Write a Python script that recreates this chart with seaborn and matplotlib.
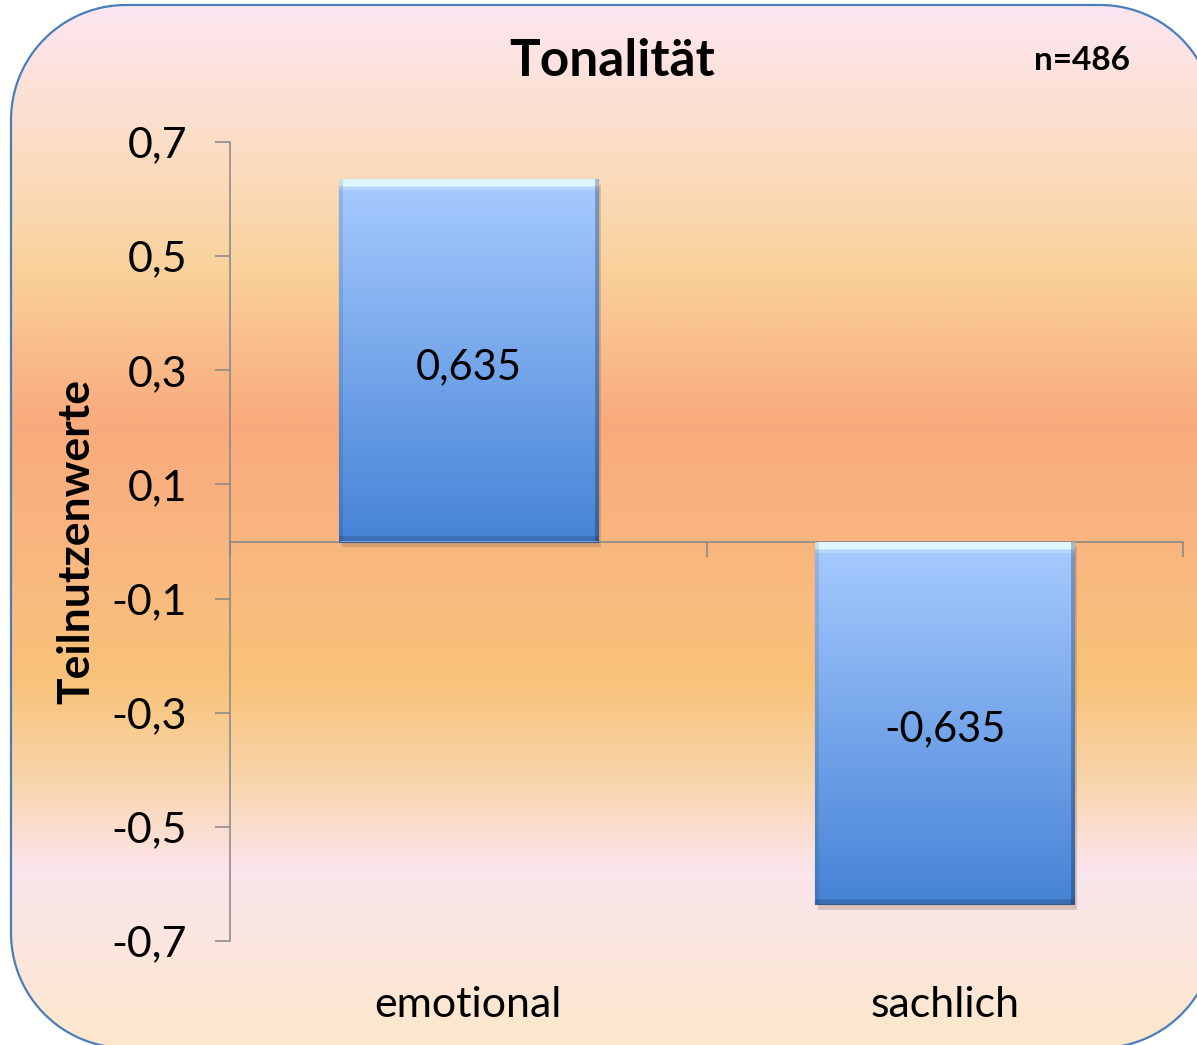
import numpy as np
import matplotlib
matplotlib.use("Agg")
import matplotlib.pyplot as plt
from matplotlib.patches import Polygon
from matplotlib.colors import LinearSegmentedColormap, to_rgb
import matplotlib.transforms as mtransforms
import seaborn as sns

# ---- data ----
categories = ["emotional", "sachlich"]
values = [0.635, -0.635]
y_ticks = [-0.7, -0.5, -0.3, -0.1, 0.1, 0.3, 0.5, 0.7]
title = "Tonalität"
n_label = "n=486"
y_label = "Teilnutzenwerte"

def de(v, nd):
    return f"{v:.{nd}f}".replace(".", ",")

plt.rcParams['font.family'] = ['Lato', 'DejaVu Sans']

W, H = 1197, 1045
fig = plt.figure(figsize=(W / 100, H / 100), dpi=100)
fig.patch.set_facecolor("white")

# ---- background rounded panel with gradient ----
bg = fig.add_axes([0, 0, 1, 1], zorder=0)
bg.set_xlim(0, W)
bg.set_ylim(H, 0)
bg.axis("off")
stops = [(0.0, "#fde6f1"), (0.15, "#fbdcc0"), (0.25, "#f9d29c"), (0.40, "#f9aa7c"),
         (0.52, "#f9b680"), (0.65, "#f8c37a"), (0.75, "#f9d6ae"), (0.83, "#fce4ec"),
         (1.0, "#fbe8cc")]
cmap_bg = LinearSegmentedColormap.from_list("bg", stops)
grad = np.linspace(0, 1, 512).reshape(-1, 1)

bx0, by0, bx1, by1, r = 11, 5, 1215, 1048, 115
def arc(cx, cy, a0, a1):
    a = np.radians(np.linspace(a0, a1, 40))
    return np.column_stack([cx + r * np.cos(a), cy + r * np.sin(a)])
# y axis downward: angles measured with y down
pts = np.vstack([
    arc(bx0 + r, by0 + r, 180, 270),   # top-left
    arc(bx1 - r, by0 + r, 270, 360),   # top-right
    arc(bx1 - r, by1 - r, 0, 90),      # bottom-right
    arc(bx0 + r, by1 - r, 90, 180),    # bottom-left
])
box = Polygon(pts, closed=True, facecolor="none", edgecolor="#4a7ebb",
              linewidth=1.6, zorder=3)
bg.add_patch(box)
im = bg.imshow(grad, cmap=cmap_bg, aspect="auto", extent=[bx0, bx1, by1, by0],
               origin="upper", zorder=1)
im.set_clip_path(box)
bg.set_xlim(0, W)
bg.set_ylim(H, 0)

# ---- main axes ----
ax = fig.add_axes([230 / W, 1 - 941 / H, (1183 - 230) / W, (941 - 142) / H], zorder=1)
ax.set_facecolor("none")

sns.barplot(x=categories, y=values, width=0.544, color="#6fa0e8",
            edgecolor="#34598a", linewidth=0.8, ax=ax, zorder=2)

# gradient fill for bars
top_c = np.array(to_rgb("#a7cbff"))
bot_c = np.array(to_rgb("#4683d6"))
for p in list(ax.patches):
    x0, y0 = p.get_x(), p.get_y()
    w, h = p.get_width(), p.get_height()
    ylo, yhi = min(y0, y0 + h), max(y0, y0 + h)
    nr, nc = 300, 200
    t = np.linspace(0, 1, nr)[:, None]
    img = top_c[None, None, :] * (1 - t[..., None]) + bot_c[None, None, :] * t[..., None]
    img = np.repeat(img, nc, axis=1)
    img[:7, :, :] = np.array(to_rgb("#dff6ff"))
    img[7:10, :, :] = img[7:10, :, :] * 0.5 + 0.5 * np.array(to_rgb("#c4e4ff"))
    img[:, -3:, :] *= 0.75
    img[:, :3, :] *= 0.9
    img[-4:, :, :] *= 0.85
    sh = plt.Rectangle((x0 + 0.006, ylo - 0.01), w, yhi - ylo, facecolor="#7a5a40",
                       alpha=0.25, edgecolor="none", zorder=1.5)
    ax.add_patch(sh)
    bim = ax.imshow(img, extent=[x0, x0 + w, ylo, yhi], origin="upper",
                    aspect="auto", zorder=2.5)
    bim.set_clip_path(p)

ax.set_xlim(-0.5, 1.5)
ax.set_ylim(-0.7, 0.7)

# value labels
for c in ax.containers:
    anns = ax.bar_label(c, labels=[de(v, 3) for v in values], label_type="center",
                        fontsize=30, color="black", zorder=5)
    for a in anns:
        a.xyann = (0, -5)
        a.set_zorder(5)

# axes styling
for s in ["top", "right"]:
    ax.spines[s].set_visible(False)
ax.spines["left"].set_color("#868686")
ax.spines["left"].set_linewidth(1.1)
ax.spines["bottom"].set_position(("data", 0))
ax.spines["bottom"].set_color("#868686")
ax.spines["bottom"].set_linewidth(1.1)
ax.spines["bottom"].set_zorder(1.8)

ax.set_yticks(y_ticks)
ax.set_yticklabels([de(v, 1) for v in y_ticks])
ax.tick_params(axis="y", length=11, width=1.1, color="#868686", pad=20,
               labelsize=31, labelcolor="black")
ax.set_xticks([0, 1])
ax.set_xticklabels([])
ax.tick_params(axis="x", which="major", length=0)
ax.set_xticks([-0.5, 0.5, 1.5], minor=True)
ax.tick_params(axis="x", which="minor", length=11, width=1.1, color="#868686",
               direction="out")
ax.set_xlabel("")

trans = mtransforms.blended_transform_factory(ax.transData, ax.transAxes)
for i, cat in enumerate(categories):
    ax.text(i, -0.080, cat, transform=trans, ha="center", va="center",
            fontsize=31, color="black")

ax.set_ylabel(y_label, fontsize=32, fontweight="bold", color="black")
ax.yaxis.label.set_va("center")
ax.yaxis.set_label_coords(-0.1616, 0.5)

fig.text(612 / W, 1 - 62 / H, title, ha="center", va="center",
         fontsize=37, fontweight="bold", color="black")
fig.text(1082 / W, 1 - 60 / H, n_label, ha="center", va="center",
         fontsize=24, fontweight="bold", color="black")

fig.savefig("out.png", dpi=100, facecolor="white")
